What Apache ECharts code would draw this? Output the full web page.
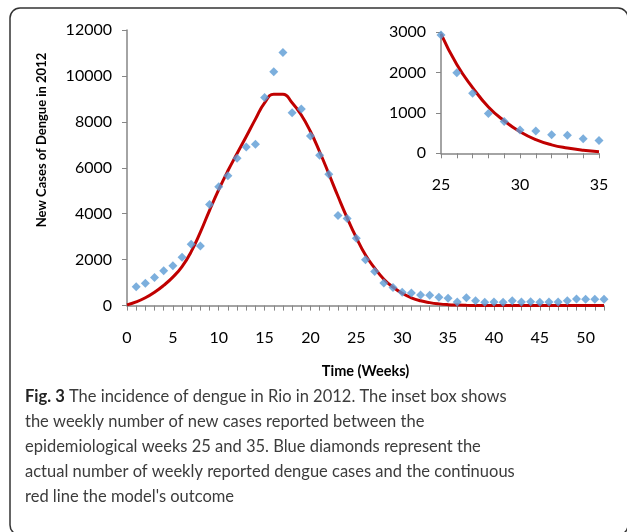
<!DOCTYPE html>
<html>
<head>
<meta charset="utf-8">
<script src="https://cdn.jsdelivr.net/npm/echarts@6/dist/echarts.min.js"></script>
<style>
html,body{margin:0;padding:0;background:#fff;}
#chart{width:627px;height:532px;}
</style>
</head>
<body>
<div id="chart"></div>
<script>
// Weeks 0..52
const weeks = Array.from({length: 53}, (_, i) => i);
// Reported cases (blue diamonds), weeks 1..52
const reportedWeeks = Array.from({length: 52}, (_, i) => i + 1);
const reported = [820, 970, 1220, 1520, 1740, 2100, 2670, 2600, 4400, 5180,
  5650, 6420, 6910, 7030, 9060, 10180, 11020, 8400, 8560, 7390,
  6550, 5720, 3920, 3790, 2930, 2000, 1490, 985, 790, 580,
  550, 460, 450, 360, 315, 157, 344, 214, 144, 157,
  144, 214, 157, 170, 144, 157, 157, 214, 288, 274,
  274, 274];
// Model outcome (red line), weeks 0..52
const model = [30, 160, 340, 580, 880, 1240, 1700, 2350, 3200, 4150,
  5050, 5870, 6620, 7360, 8120, 8830, 9200, 9200, 8830, 8300,
  7580, 6700, 5740, 4760, 3820, 2960, 2200, 1630, 1150, 805,
  535, 340, 210, 130, 75, 40, 22, 12, 7, 4,
  3, 2, 1, 1, 1, 1, 1, 1, 1, 1,
  1, 1, 1];
const xTicksMain = [0, 5, 10, 15, 20, 25, 30, 35, 40, 45, 50];
const xTicksInset = [25, 30, 35];
const insetStart = 25, insetEnd = 35;

const captionLines = [
  ["Fig. 3", " The incidence of dengue in Rio in 2012. The inset box shows"],
  ["", "the weekly number of new cases reported between the"],
  ["", "epidemiological weeks 25 and 35. Blue diamonds represent the"],
  ["", "actual number of weekly reported dengue cases and the continuous"],
  ["", "red line the model's outcome"]
];

const FONT = 'Lato';
const axisGray = '#868686';
const blue = '#5b9bd5';
const red = '#c00000';

const pairs = (xs, ys) => xs.map((x, i) => [x, ys[i]]);
const mainLine = pairs(weeks, model);
const mainPts = pairs(reportedWeeks, reported);
const insetLine = mainLine.filter(p => p[0] >= insetStart && p[0] <= insetEnd);
const insetPts = mainPts.filter(p => p[0] >= insetStart && p[0] <= insetEnd);

function xAxisCfg(gridIndex, min, max, ticks, extra) {
  return Object.assign({
    type: 'value', gridIndex, min, max, interval: 1,
    axisLine: {show: true, lineStyle: {color: axisGray, width: 1.5}},
    axisTick: {show: true, inside: false, length: 5, lineStyle: {color: axisGray}},
    splitLine: {show: false},
    axisLabel: {
      color: '#000', fontFamily: FONT, fontSize: 16, margin: 24,
      formatter: v => ticks.indexOf(v) >= 0 ? String(v) : ''
    }
  }, extra || {});
}
function yAxisCfg(gridIndex, min, max, interval) {
  return {
    type: 'value', gridIndex, min, max, interval,
    axisLine: {show: true, lineStyle: {color: axisGray, width: 1.5}},
    axisTick: {show: true, inside: false, length: 5, lineStyle: {color: axisGray}},
    splitLine: {show: false},
    axisLabel: {color: '#000', fontFamily: FONT, fontSize: 16, margin: 15,
                formatter: v => String(v)}
  };
}

const graphics = [
  {type: 'rect', shape: {x: 10, y: 8, width: 618, height: 527, r: 10},
   style: {fill: 'none', stroke: '#333', lineWidth: 1.5}, z: 0},
  {type: 'text', x: 42, y: 140, rotation: Math.PI / 2,
   style: {text: 'New Cases of Dengue in 2012', fontFamily: FONT, fontSize: 13, fontWeight: 'bold',
           fill: '#000', align: 'center', verticalAlign: 'middle'}}
];
captionLines.forEach((ln, i) => {
  const y = 398 + i * 25;
  graphics.push({
    type: 'text', left: 25, top: y - 10,
    style: {
      text: (ln[0] ? '{b|' + ln[0] + '}' : '') + '{n|' + ln[1] + '}',
      rich: {
        b: {fontFamily: FONT, fontSize: 16.5, fontWeight: 'bold', fill: '#222'},
        n: {fontFamily: FONT, fontSize: 16.5, fill: '#3c3c3c'}
      }
    }
  });
});

const option = {
  animation: false,
  backgroundColor: '#fff',
  grid: [
    {left: 127, right: 23, top: 30, bottom: 226.4},
    {left: 441, right: 28, top: 32.3, bottom: 378.7}
  ],
  xAxis: [
    xAxisCfg(0, 0, 52, xTicksMain, {
      name: 'Time (Weeks)', nameLocation: 'middle', nameGap: 58,
      nameTextStyle: {fontFamily: FONT, fontSize: 14.5, fontWeight: 'bold', color: '#000'}
    }),
    xAxisCfg(1, insetStart, insetEnd, xTicksInset)
  ],
  yAxis: [
    yAxisCfg(0, 0, 12000, 2000),
    yAxisCfg(1, 0, 3000, 1000)
  ],
  series: [
    {type: 'line', xAxisIndex: 0, yAxisIndex: 0, data: mainLine, smooth: 0.5,
     showSymbol: false, lineStyle: {color: red, width: 3}, z: 2},
    {type: 'scatter', xAxisIndex: 0, yAxisIndex: 0, data: mainPts, symbol: 'diamond',
     symbolSize: 9, itemStyle: {color: blue}, z: 3},
    {type: 'line', xAxisIndex: 1, yAxisIndex: 1, data: insetLine, smooth: 0.5,
     showSymbol: false, lineStyle: {color: red, width: 3}, z: 2},
    {type: 'scatter', xAxisIndex: 1, yAxisIndex: 1, data: insetPts, symbol: 'diamond',
     symbolSize: 9, itemStyle: {color: blue}, z: 3}
  ],
  graphic: graphics
};

const chart = echarts.init(document.getElementById('chart'), null, {renderer: 'canvas'});
chart.setOption(option);
</script>
</body>
</html>
